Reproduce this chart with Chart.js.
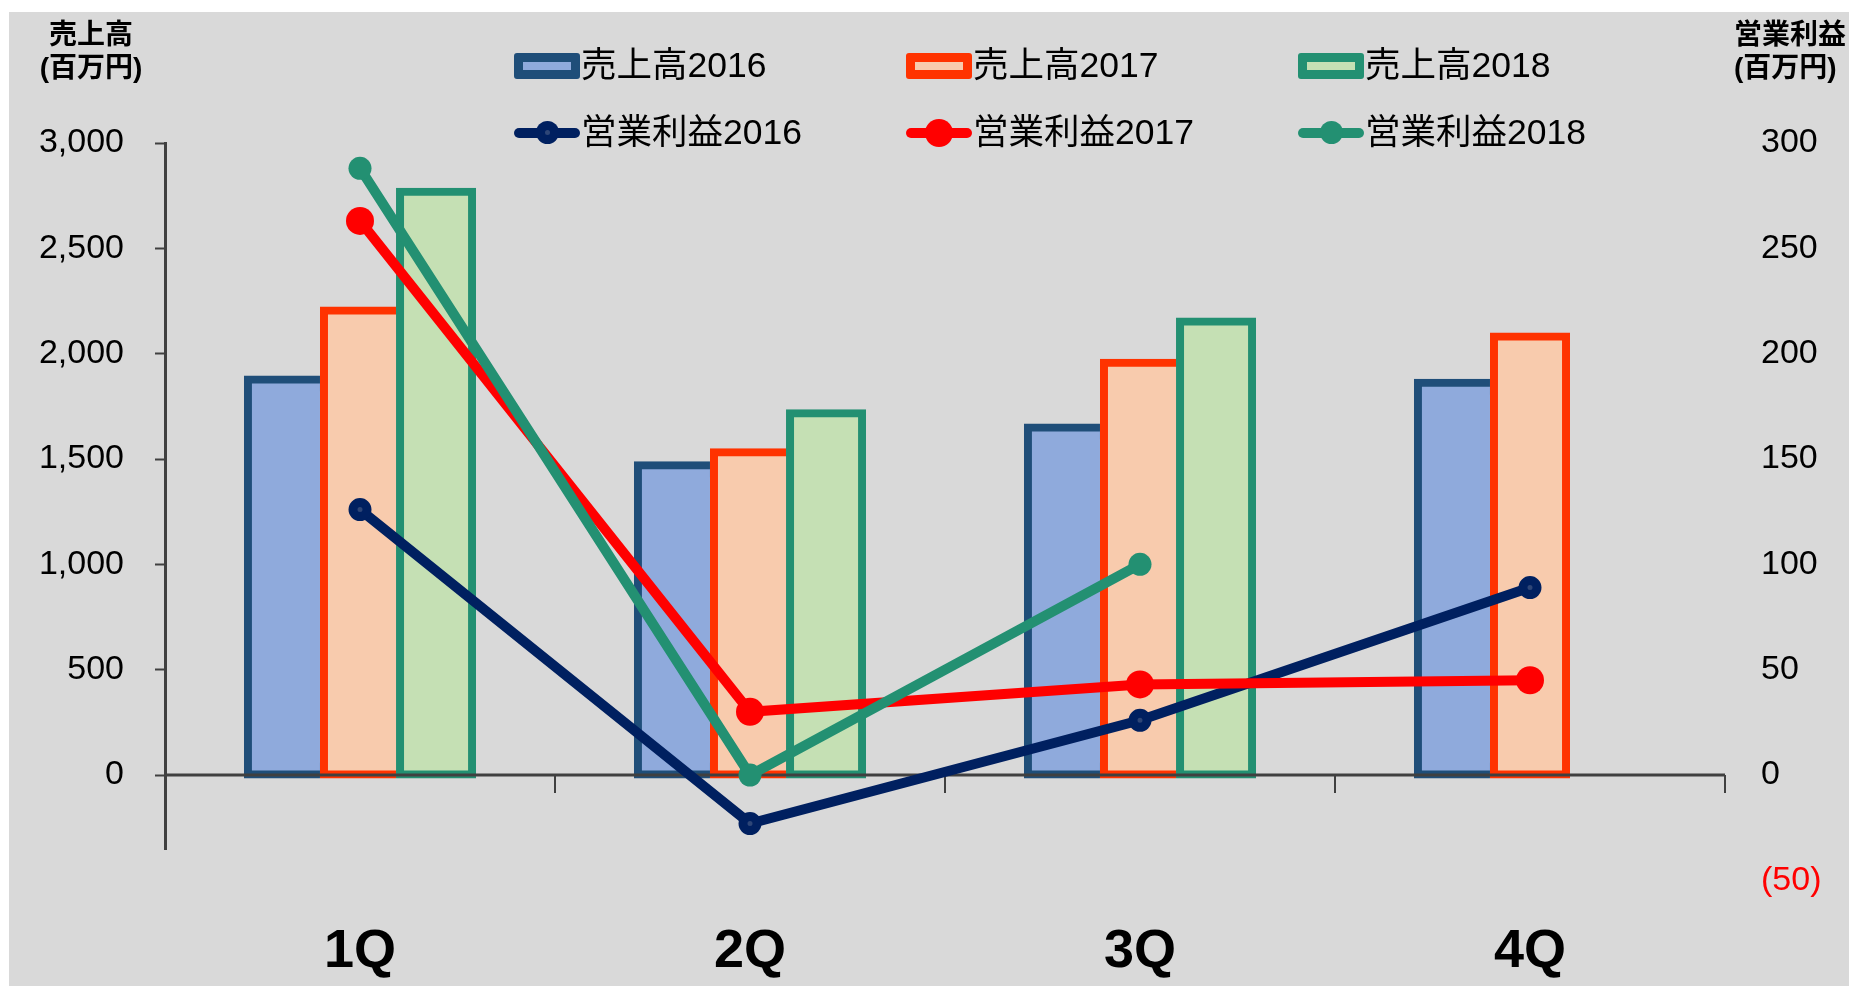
<!DOCTYPE html>
<html>
<head>
<meta charset="utf-8">
<script src="https://cdn.jsdelivr.net/npm/chart.js@4.4.1/dist/chart.umd.min.js"></script>
<style>
    body { margin: 0; background: #fff; overflow: hidden; width: 1849px; height: 988px; position: relative; font-family: "Liberation Sans", "Noto Sans CJK JP", sans-serif; }
    #bg { position: absolute; left: 9px; top: 12px; width: 1840px; height: 974px; background: #d9d9d9; }
    #chart { position: absolute; left: 0; top: 0; }
    .title { position: absolute; top: 18px; font-weight: bold; font-size: 28px; line-height: 33px; white-space: nowrap; color: #000; }
    #legend { position: absolute; left: 514px; top: 32px; display: grid; grid-template-columns: repeat(3, 392px); grid-auto-rows: 67px; }
    .item { display: flex; align-items: center; font-size: 35.5px; line-height: 1; color: #000; white-space: nowrap; }
    .mark { position: relative; width: 66px; height: 26px; margin-right: 1px; box-sizing: border-box; flex: none; }
</style>
</head>
<body>
<div id="bg"></div>
<canvas id="chart" width="1849" height="988"></canvas>
<div class="title" style="left:0; width:182px; text-align:center;">売上高<br>(百万円)</div>
<div class="title" style="left:1734px;">営業利益<br>(百万円)</div>
<div id="legend"></div>
<script>
// data
const quarters = ["1Q", "2Q", "3Q", "4Q"];

const salesNames = ["売上高2016", "売上高2017", "売上高2018"];
const profitNames = ["営業利益2016", "営業利益2017", "営業利益2018"];

const sales2016 = [1878, 1470, 1650, 1862];
const sales2017 = [2205, 1532, 1957, 2082];
const sales2018 = [2769, 1717, 2153, null];

const profit2016 = [126, -23, 26, 89];
const profit2017 = [263, 30, 43, 45];
const profit2018 = [288, 0, 100, null];

const salesTicks = [0, 500, 1000, 1500, 2000, 2500, 3000];
const profitTicks = [-50, 0, 50, 100, 150, 200, 250, 300];

Chart.defaults.font.family = "'Liberation Sans', 'Noto Sans CJK JP', sans-serif";
Chart.defaults.color = "#000";

// bar border: the right side is covered by the next bar, like Excel
function barBorder(ctx) {
    const next = ctx.chart.data.datasets[ctx.datasetIndex + 1];
    const covered = next && next.type === "bar" && next.data[ctx.dataIndex] != null;
    return { left: 8, top: 8, bottom: 8, right: covered ? 0 : 8 };
}

function barSet(label, data, border, fill) {
    return {
        type: "bar",
        label: label,
        data: data,
        yAxisID: "y",
        backgroundColor: fill,
        borderColor: border,
        borderWidth: barBorder,
        borderSkipped: false,
        inflateAmount: 4,          // border centred on the bar edge
        barPercentage: 72 / 76,
        categoryPercentage: 0.585,
        order: 0
    };
}

function lineSet(label, data, color, radius, border, inner, order) {
    return {
        type: "line",
        label: label,
        data: data,
        yAxisID: "y1",
        borderColor: color,
        backgroundColor: color,
        borderWidth: 10,
        tension: 0,
        fill: false,
        pointRadius: radius,
        pointBorderWidth: border,
        pointBorderColor: color,
        pointBackgroundColor: inner,
        order: order
    };
}

// zero line and quarter ticks, drawn over the bars but under the lines
const axisLines = {
    id: "axisLines",
    beforeDatasetsDraw(chart) {
        chart.$zeroDone = false;
    },
    beforeDatasetDraw(chart, args) {
        if (args.meta.type !== "line" || chart.$zeroDone) return;
        chart.$zeroDone = true;
        const { ctx, chartArea, scales } = chart;
        const y0 = scales.y.getPixelForValue(0);
        ctx.save();
        ctx.strokeStyle = "#404040";
        ctx.lineWidth = 3;
        ctx.beginPath();
        ctx.moveTo(chartArea.left, y0);
        ctx.lineTo(chartArea.right, y0);
        ctx.stroke();
        ctx.lineWidth = 2;
        ctx.beginPath();
        for (let i = 0; i <= quarters.length; i++) {
            const px = scales.x.getPixelForValue(i - 0.5);
            ctx.moveTo(px, y0);
            ctx.lineTo(px, y0 + 18);
        }
        ctx.stroke();
        ctx.restore();
    }
};

const chart = new Chart(document.getElementById("chart"), {
    data: {
        labels: quarters,
        datasets: [
            barSet(salesNames[0], sales2016, "#1f4e79", "#8faadc"),
            barSet(salesNames[1], sales2017, "#ff3300", "#f8cbad"),
            barSet(salesNames[2], sales2018, "#239072", "#c5e0b4"),
            lineSet(profitNames[0], profit2016, "#002060", 7, 9, "#2e4677", -1),
            lineSet(profitNames[1], profit2017, "#ff0000", 14, 0, "#ff0000", -2),
            lineSet(profitNames[2], profit2018, "#239072", 11.5, 0, "#239072", -3)
        ]
    },
    options: {
        responsive: false,
        animation: false,
        layout: { padding: { top: 143, left: 0, right: 0, bottom: 0 } },
        plugins: {
            legend: { display: false },
            tooltip: { enabled: false }
        },
        scales: {
            x: {
                grid: { display: false },
                border: { display: false },
                ticks: { font: { size: 54, weight: "bold" }, padding: 63 },
                afterFit: s => { s.height = 139; }
            },
            y: {
                position: "left",
                min: -351,
                max: 3000,
                afterBuildTicks: s => { s.ticks = salesTicks.map(v => ({ value: v })); },
                afterFit: s => { s.width = 165; },
                grid: { drawOnChartArea: false, tickLength: 10, tickWidth: 2, tickColor: "#404040" },
                border: { display: true, color: "#404040", width: 3 },
                ticks: {
                    font: { size: 34 },
                    padding: 31,
                    callback: v => Number(v).toLocaleString("en-US")
                }
            },
            y1: {
                position: "right",
                min: -35.1,
                max: 300,
                afterBuildTicks: s => { s.ticks = profitTicks.map(v => ({ value: v })); },
                afterFit: s => { s.width = 124; },
                grid: { display: false },
                border: { display: false },
                ticks: {
                    font: { size: 34 },
                    padding: 28,
                    color: ctx => ctx.tick && ctx.tick.value < 0 ? "#ff0000" : "#000",
                    callback: v => v < 0 ? "(" + Math.abs(v) + ")" : String(v)
                }
            }
        }
    },
    plugins: [axisLines]
});

// legend, 3 columns: bars on the first row, lines on the second
const legend = document.getElementById("legend");

chart.data.datasets.forEach(ds => {
    const item = document.createElement("div");
    item.className = "item";
    const mark = document.createElement("div");
    mark.className = "mark";
    if (ds.type === "bar") {
        mark.style.border = "9px solid " + ds.borderColor;
        mark.style.background = ds.backgroundColor;
        mark.style.borderRadius = "3px";
    } else {
        const outer = ds.pointRadius + ds.pointBorderWidth / 2;
        mark.innerHTML =
            '<div style="position:absolute;left:0;right:0;top:8px;height:10px;border-radius:5px;background:' + ds.borderColor + '"></div>' +
            '<div style="position:absolute;left:' + (33 - outer) + 'px;top:' + (13 - outer) + 'px;width:' + (outer * 2) + 'px;height:' + (outer * 2) + 'px;border-radius:50%;background:' + ds.borderColor + '"></div>';
        if (ds.pointBorderWidth > 0) {
            const dot = ds.pointRadius - ds.pointBorderWidth / 2;
            mark.innerHTML += '<div style="position:absolute;left:' + (33 - dot) + 'px;top:' + (13 - dot) + 'px;width:' + (dot * 2) + 'px;height:' + (dot * 2) + 'px;border-radius:50%;background:' + ds.pointBackgroundColor + '"></div>';
        }
    }
    item.appendChild(mark);
    item.appendChild(document.createTextNode(ds.label));
    legend.appendChild(item);
});
</script>
</body>
</html>
